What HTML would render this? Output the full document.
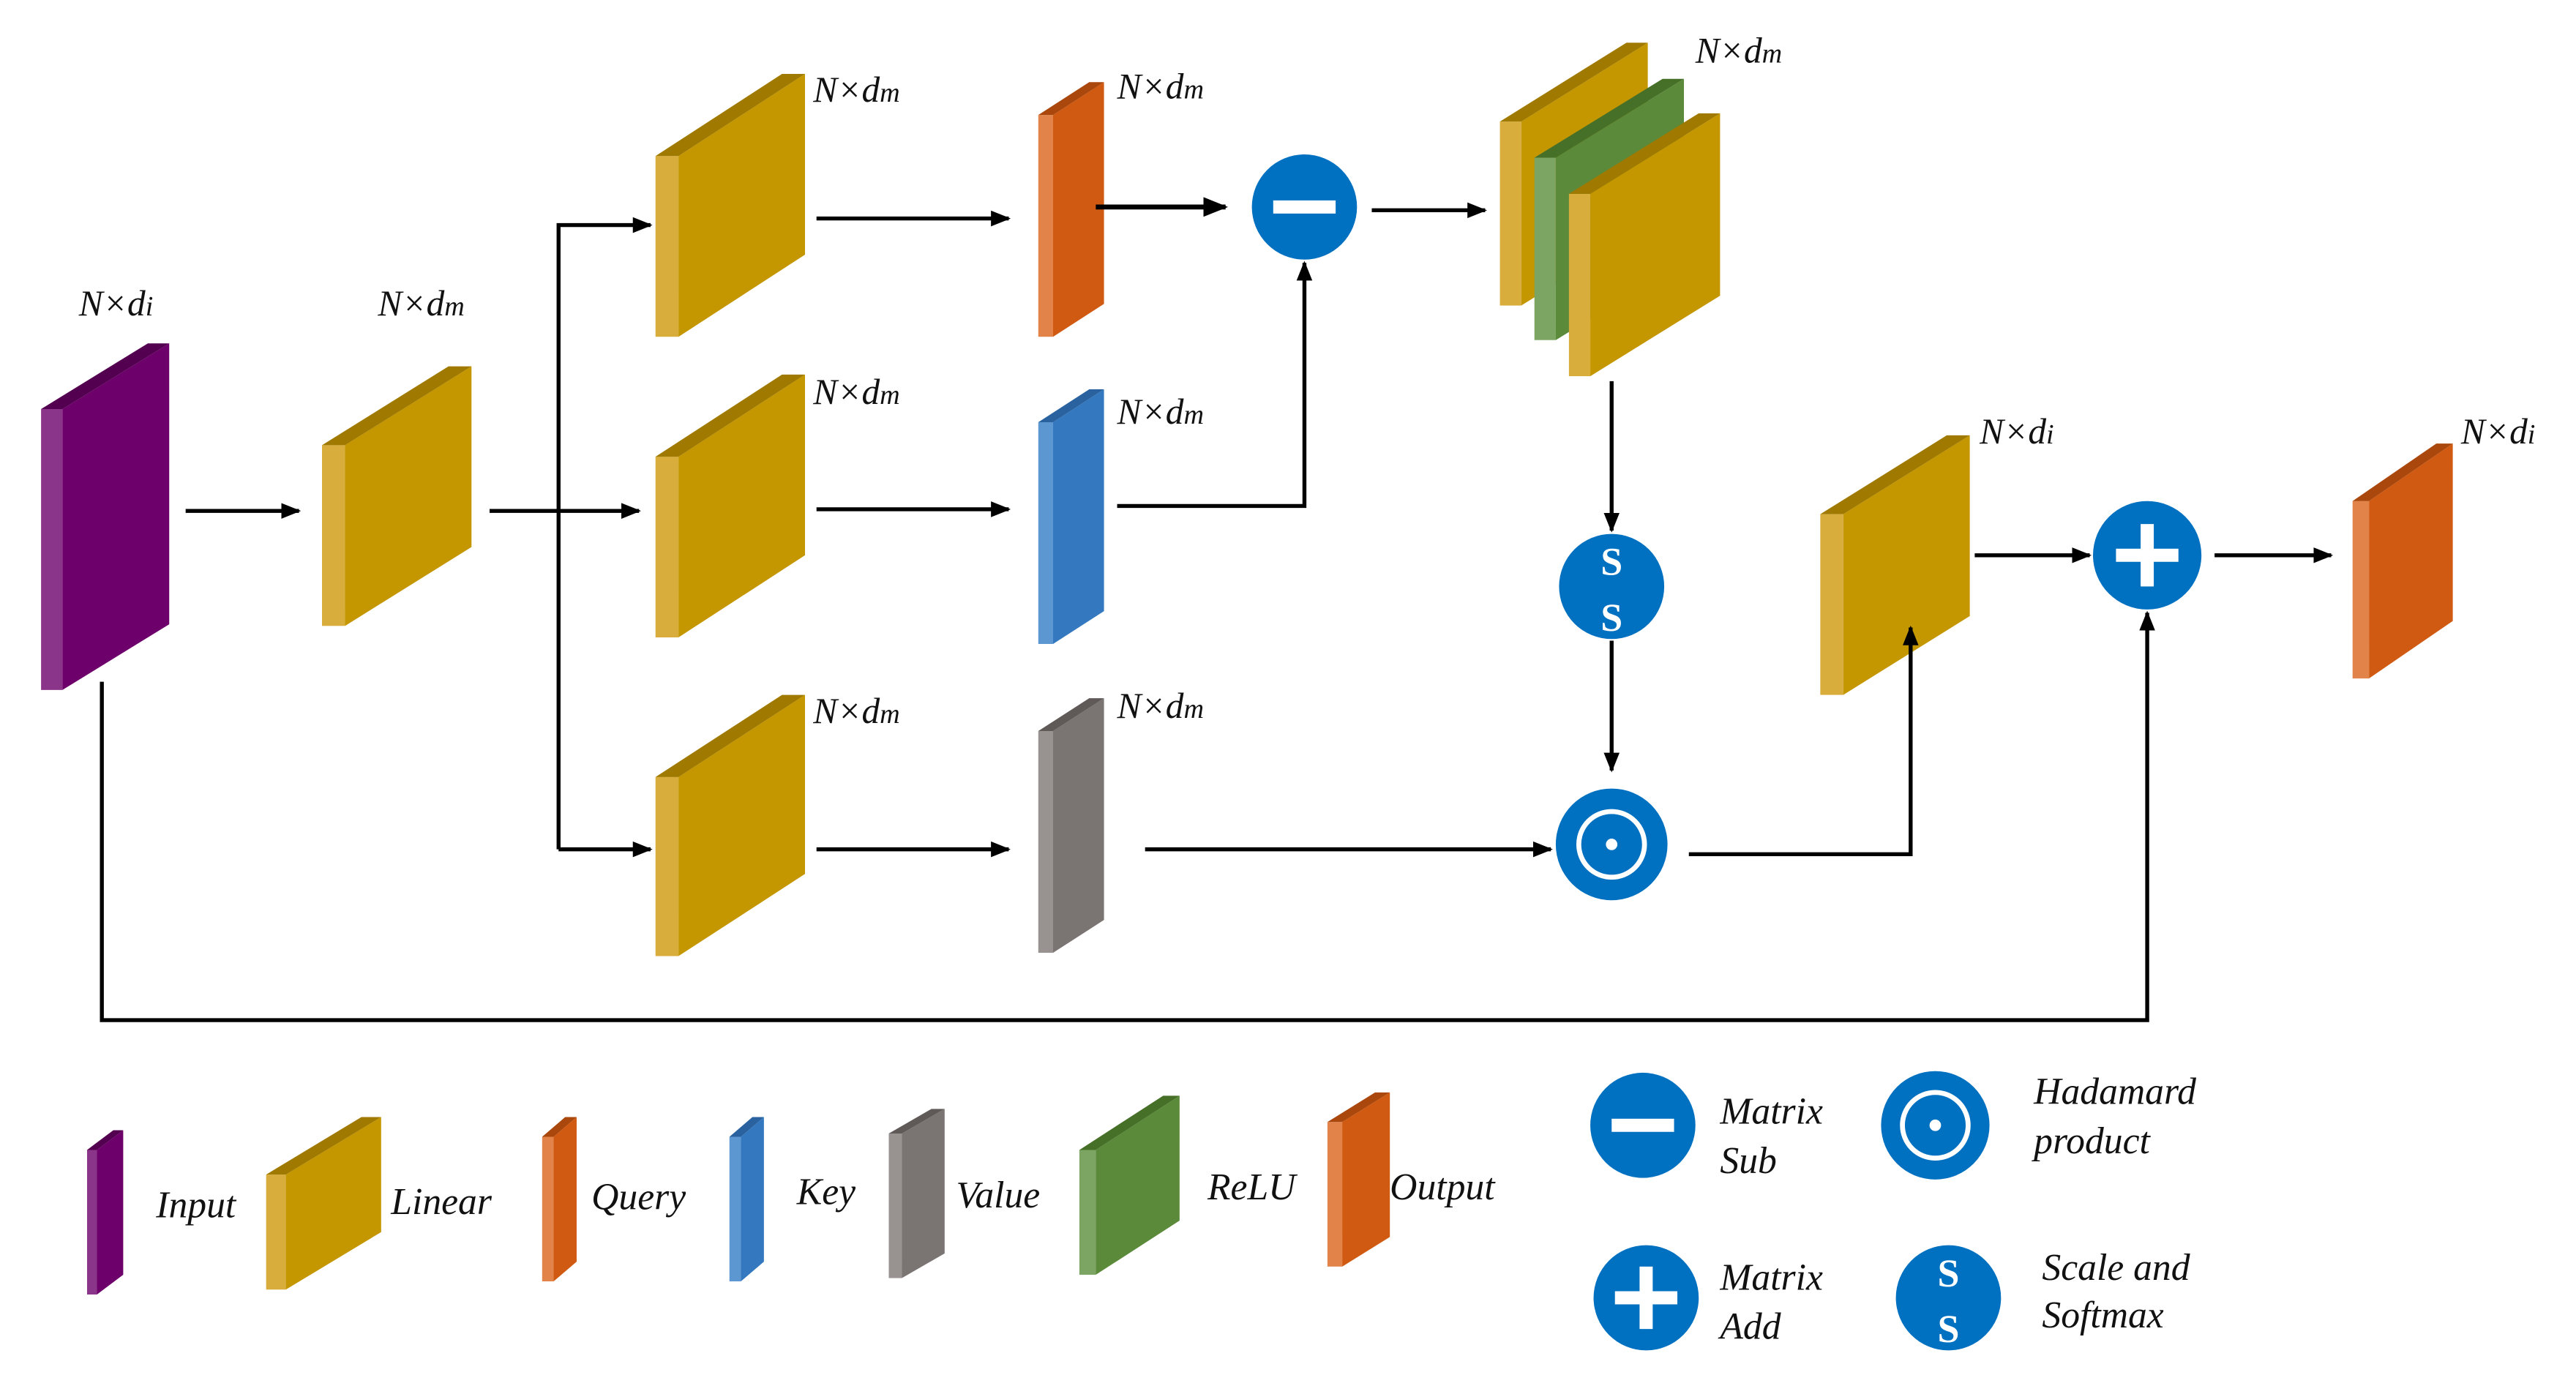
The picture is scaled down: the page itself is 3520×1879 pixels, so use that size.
<!DOCTYPE html>
<html><head><meta charset="utf-8"><style>
html,body{margin:0;padding:0;background:#fff;}
svg{display:block;}
text{font-family:"Liberation Serif",serif;font-style:italic;fill:#111;}
</style></head><body>
<svg id="s" width="3520" height="1879" viewBox="0 0 1568 837" preserveAspectRatio="none" xmlns="http://www.w3.org/2000/svg">
<defs>
<marker id="a" viewBox="0 0 10 10" refX="9" refY="5" markerWidth="5" markerHeight="5" orient="auto-start-reverse" markerUnits="strokeWidth"><path d="M0,1 L10,5 L0,9 z" fill="#000"/></marker>
</defs>
<g id="slabs"></g>
<g stroke="#000" stroke-width="2.4" fill="none">
<path d="M113,311 H182" marker-end="url(#a)"/>
<path d="M298,311 H389" marker-end="url(#a)"/>
<path d="M340,517 V137 H396" marker-end="url(#a)"/>
<path d="M340,517 H396" marker-end="url(#a)"/>
<path d="M497,133 H614" marker-end="url(#a)"/>
<path d="M497,310 H614" marker-end="url(#a)"/>
<path d="M497,517 H614" marker-end="url(#a)"/>
<path d="M667,126 H746" stroke-width="3" marker-end="url(#a)"/>
<path d="M835,128 H904" marker-end="url(#a)"/>
<path d="M680,308 H794 V160" marker-end="url(#a)"/>
<path d="M697,517 H944" marker-end="url(#a)"/>
<path d="M981,232 V323" marker-end="url(#a)"/>
<path d="M981,390 V469" marker-end="url(#a)"/>
<path d="M1028,520 H1163 V382" marker-end="url(#a)"/>
<path d="M1202,338 H1272" marker-end="url(#a)"/>
<path d="M1348,338 H1419" marker-end="url(#a)"/>
<path d="M62,415 V621 H1307 V373" marker-end="url(#a)"/>
</g>
<g fill="#0070c0">
<circle cx="794" cy="126" r="32"/><circle cx="981" cy="357" r="32"/><circle cx="981" cy="514" r="34"/><circle cx="1307" cy="338" r="33"/>
<circle cx="1000" cy="685" r="32"/><circle cx="1178" cy="685" r="33"/><circle cx="1002" cy="790" r="32"/><circle cx="1186" cy="790" r="32"/>
</g>
<g fill="#fff">
<rect x="775" y="122" width="38" height="8"/>
<rect x="981" y="681" width="38" height="8"/>
<rect x="1288" y="334" width="38" height="8"/><rect x="1303" y="319" width="8" height="38"/>
<rect x="983" y="786" width="38" height="8"/><rect x="998" y="771" width="8" height="38"/>
<circle cx="981" cy="514" r="3.5"/><circle cx="1178" cy="685" r="3.5"/>
</g>
<g fill="none" stroke="#fff" stroke-width="3">
<circle cx="981" cy="514" r="20"/><circle cx="1178" cy="685" r="20"/>
</g>
<g fill="#fff" font-family="Liberation Serif" font-weight="bold" font-size="24" text-anchor="middle">
<text x="981" y="350" style="fill:#fff;font-style:normal;font-weight:bold">S</text>
<text x="981" y="384" style="fill:#fff;font-style:normal;font-weight:bold">S</text>
<text x="1186" y="783" style="fill:#fff;font-style:normal;font-weight:bold">S</text>
<text x="1186" y="817" style="fill:#fff;font-style:normal;font-weight:bold">S</text>
</g>
<g font-size="22">
<text x="48" y="192">N×d<tspan font-size="17">i</tspan></text>
<text x="230" y="192">N×d<tspan font-size="17">m</tspan></text>
<text x="495" y="62">N×d<tspan font-size="17">m</tspan></text>
<text x="680" y="60">N×d<tspan font-size="17">m</tspan></text>
<text x="495" y="246">N×d<tspan font-size="17">m</tspan></text>
<text x="680" y="258">N×d<tspan font-size="17">m</tspan></text>
<text x="495" y="440">N×d<tspan font-size="17">m</tspan></text>
<text x="680" y="437">N×d<tspan font-size="17">m</tspan></text>
<text x="1032" y="38">N×d<tspan font-size="17">m</tspan></text>
<text x="1205" y="270">N×d<tspan font-size="17">i</tspan></text>
<text x="1498" y="270">N×d<tspan font-size="17">i</tspan></text>
</g>
<g font-size="23">
<text x="95" y="741">Input</text>
<text x="238" y="739">Linear</text>
<text x="360" y="736">Query</text>
<text x="485" y="733">Key</text>
<text x="582" y="735">Value</text>
<text x="735" y="730">ReLU</text>
<text x="846" y="730">Output</text>
<text x="1047" y="684">Matrix</text><text x="1047" y="714">Sub</text>
<text x="1238" y="672">Hadamard</text><text x="1238" y="702">product</text>
<text x="1047" y="785">Matrix</text><text x="1047" y="815">Add</text>
<text x="1243" y="779">Scale and</text><text x="1243" y="808">Softmax</text>
</g>
</svg>
<script>
var C={p:["#6d006b","#8b358a","#52004f"],y:["#c49600","#d8ad3c","#a07a00"],o:["#d05a12","#e2844a","#a9470c"],b:["#3479c0","#5d97d2","#2a62a0"],g:["#7a7472","#989290","#5f5a58"],gr:["#5a8a3a","#7ca462","#467028"]};
var S=[["p",25,103,209,249,171,13],["y",196,287,223,271,110,14],
["y",399,490,45,95,110,14],["y",399,490,228,278,110,14],["y",399,490,423,473,109,14],
["o",632,672,50,70,135,9],["b",632,672,237,257,135,9],["g",632,672,425,445,135,9],
["y",913,1003,26,74,112,13],["gr",934,1025,48,96,111,13],["y",955,1047,69,118,111,13],
["y",1108,1199,265,313,110,14],["o",1432,1493,270,305,108,10],
["p",53,75,688,700,88,6],["y",162,232,680,715,70,12],["o",330,351,680,692,88,7],["b",444,465,680,692,88,7],["g",541,575,675,690,88,8],["gr",657,718,667,700,76,10],["o",808,846,665,683,88,9]];
var g=document.getElementById("slabs"),h="";
S.forEach(function(s){var c=C[s[0]],L=s[1],R=s[2],T0=s[3],T1=s[4],H=s[5],w=s[6];
h+='<rect x="'+L+'" y="'+T1+'" width="'+w+'" height="'+H+'" fill="'+c[1]+'"/>';
h+='<polygon points="'+(L+w)+','+T1+' '+R+','+T0+' '+R+','+(T0+H)+' '+(L+w)+','+(T1+H)+'" fill="'+c[0]+'"/>';
h+='<polygon points="'+L+','+T1+' '+(R-w)+','+T0+' '+R+','+T0+' '+(L+w)+','+T1+'" fill="'+c[2]+'"/>';});
g.innerHTML=h;
</script>
</body></html>
